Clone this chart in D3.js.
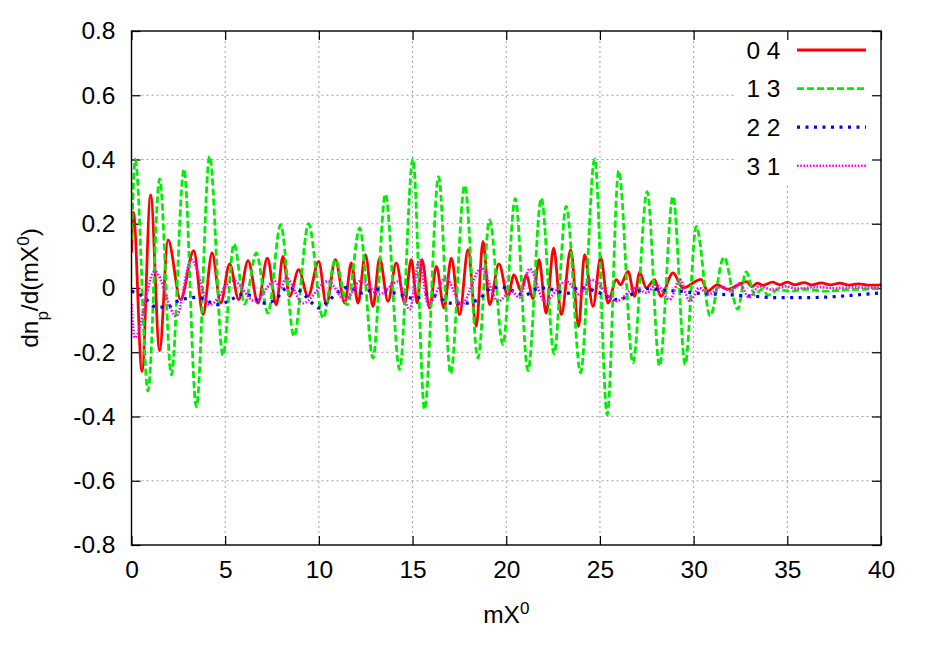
<!DOCTYPE html>
<html lang="en">
<head>
    <meta charset="utf-8">
    <title>dn/dmX0</title>
    <script src="https://cdnjs.cloudflare.com/ajax/libs/d3/7.8.5/d3.min.js"></script>
    <style>
        body { margin: 0; background: #fff; }
        text { font-family: "Liberation Sans", Arial, sans-serif; fill: #000; }
    </style>
</head>
<body>
    <script type="text/javascript">
    // tick values
    var xTicks = [0, 5, 10, 15, 20, 25, 30, 35, 40];
    var yTicks = [-0.8, -0.6, -0.4, -0.2, 0, 0.2, 0.4, 0.6, 0.8];
    var seriesNames = ["0 4", "1 3", "2 2", "3 1"];

    // series, [mX0, value] (mostly peaks and troughs)
    var s04 = [[0,0.11],[0.1,0.235],[0.56,-0.26],[1.02,0.29],[1.5,-0.195],[1.95,0.15],[2.62,-0.036],
        [3.32,0.116],[3.82,-0.083],[4.3,0.109],[4.76,-0.047],[5.24,0.075],[5.72,-0.036],[6.22,0.085],
        [6.75,-0.047],[7.25,0.093],[7.73,-0.052],[8.08,0.098],[8.44,-0.026],[8.92,0.057],[9.42,-0.026],
        [9.99,0.083],[10.4,-0.052],[10.88,0.088],[11.38,-0.047],[11.73,0.078],[12.09,-0.047],[12.48,0.104],
        [12.89,-0.057],[13.24,0.093],[13.69,-0.041],[14.13,0.078],[14.58,-0.047],[14.93,0.088],[15.25,-0.047],
        [15.5,0.088],[15.91,-0.062],[16.27,0.067],[16.68,-0.062],[17.07,0.093],[17.51,-0.083],[17.96,0.119],
        [18.4,-0.119],[18.76,0.145],[19.11,-0.052],[19.61,0.075],[20.09,-0.026],[20.41,0.041],[20.8,-0.01],
        [21.07,0.041],[21.43,-0.033],[21.75,0.088],[22.13,-0.078],[22.53,0.124],[22.94,-0.083],[23.44,0.119],
        [23.86,-0.119],[24.18,0.104],[24.63,-0.057],[25.04,0.095],[25.43,-0.047],[25.87,0.026],[26.1,0.01],
        [26.5,0.052],[26.85,-0.026],[27.12,0.049],[27.47,0],[27.92,0.026],[28.24,-0.026],[28.9,0.047],
        [29.43,0],[30.4,0.027],[30.75,-0.01],[31.25,0.01],[31.8,-0.004],[32.83,0.02],[33.1,0.004],[33.4,0.015],
        [33.7,0.008],[34.2,0.018],[34.6,0.01],[35,0.018],[35.4,0.01],[35.9,0.017],[36.3,0.01],[36.8,0.016],
        [37.3,0.01],[37.8,0.015],[38.3,0.009],[38.8,0.013],[39.3,0.009],[40,0.01]];

    var s13 = [[0,0.15],[0.2,0.4],[0.88,-0.32],[1.5,0.34],[2.13,-0.27],[2.8,0.37],[3.46,-0.37],[4.17,0.41],
        [4.88,-0.21],[5.47,0.137],[6.04,-0.05],[6.66,0.109],[7.28,-0.078],[7.96,0.197],[8.67,-0.15],[9.45,0.2],
        [10.22,-0.093],[10.88,0.088],[11.52,-0.052],[12.18,0.187],[12.89,-0.218],[13.55,0.292],[14.31,-0.254],
        [15.02,0.402],[15.64,-0.378],[16.39,0.347],[17.03,-0.267],[17.78,0.319],[18.49,-0.218],[19.11,0.212],
        [19.82,-0.176],[20.48,0.278],[21.16,-0.257],[21.87,0.28],[22.55,-0.205],[23.2,0.254],[23.97,-0.264],
        [24.72,0.402],[25.39,-0.394],[26,0.365],[26.76,-0.233],[27.52,0.3],[28.18,-0.243],[28.9,0.285],
        [29.55,-0.238],[30.14,0.192],[30.88,-0.087],[31.62,0.096],[32.35,-0.066],[32.8,0.05],[33.27,-0.022],
        [33.63,-0.004],[33.98,-0.022],[34.5,-0.005],[35.2,-0.01],[36,-0.004],[37,-0.01],[38,-0.006],
        [39,-0.004],[40,-0.002]];

    var s22 = [[0,-0.01],[0.7,-0.03],[1.2,-0.057],[1.9,-0.06],[2.5,-0.04],[3.5,-0.029],[4.6,-0.052],
        [5.2,-0.04],[5.9,-0.02],[6.4,-0.025],[7,-0.047],[7.6,-0.04],[8.3,0],[8.7,0],[9.2,-0.02],[9.7,-0.05],
        [10,-0.062],[10.5,-0.041],[11,-0.013],[11.55,0.002],[12.3,-0.016],[13,-0.003],[13.6,-0.01],
        [14.5,-0.023],[15.1,-0.033],[15.8,-0.02],[16.4,-0.03],[17,-0.047],[17.8,-0.047],[18.5,-0.036],
        [19.3,0.002],[19.8,0.002],[20.4,-0.01],[21,-0.023],[21.5,-0.005],[22.1,0],[22.7,-0.01],[23.3,-0.016],
        [23.9,0.002],[24.5,-0.005],[25.4,-0.026],[25.8,-0.036],[26.4,-0.029],[27,-0.01],[27.5,-0.002],
        [28.6,-0.008],[29.3,-0.01],[30,-0.015],[31.5,-0.02],[33,-0.025],[34.5,-0.03],[36,-0.03],
        [37.5,-0.027],[39,-0.02],[40,-0.015]];

    var s31 = [[0,-0.05],[0.17,-0.155],[1.24,0.052],[2.39,-0.088],[3.19,0.088],[4.17,-0.052],[5.42,0.023],
        [6.58,-0.041],[7.64,0.021],[7.95,0],[8.26,0.031],[9.15,-0.047],[10.49,0.021],[11.38,-0.036],
        [12.27,0.023],[13.2,-0.02],[14.22,0.02],[14.84,-0.067],[15.37,0.088],[15.82,-0.05],[16.8,0.031],
        [17.6,-0.052],[18.67,0.062],[19.56,-0.041],[20.3,-0.01],[20.7,-0.03],[21.25,0.06],[22.05,-0.041],
        [23.2,0.021],[23.9,-0.02],[24.54,0.026],[25.87,-0.041],[26.9,0],[27.5,-0.015],[28,0.01],
        [28.73,-0.036],[29.26,0.026],[29.8,-0.041],[30.3,0],[30.8,-0.02],[31.5,0.005],[32,-0.01],
        [32.45,0.015],[32.95,-0.03],[33.5,0.005],[34.2,-0.005],[34.9,0.005],[35.5,-0.002],[36.5,0.003],
        [37.5,0],[38.5,0.002],[40,0]];

    var seriesData = [s04, s13, s22, s31];
    var styles = [
        {color: "#ff0000", width: 2.8, dash: null},
        {color: "#00ee00", width: 2.8, dash: "7,3"},
        {color: "#0000ff", width: 3.2, dash: "3,5.5"},
        {color: "#ff00ff", width: 2.6, dash: "1.6,1.6"}
    ];

    var fontSize = 24.5, smallSize = 17;

    var W = 926, H = 649;
    var margin = {top: 31, right: 45, bottom: 104, left: 131.5};
    var width = W - margin.left - margin.right,
        height = H - margin.top - margin.bottom;

    var x = d3.scaleLinear().domain([0, 40]).range([0, width]);
    var y = d3.scaleLinear().domain([-0.8, 0.8]).range([height, 0]);

    var svg = d3.select("body").append("svg")
        .attr("width", W)
        .attr("height", H)
        .append("g")
        .attr("transform", "translate(" + margin.left + "," + margin.top + ")");

    svg.append("defs").append("clipPath").attr("id", "clip")
        .append("rect").attr("width", width).attr("height", height);

    // grid
    var grid = svg.append("g").attr("class", "grid")
        .attr("stroke", "#a0a0a0").attr("stroke-width", 1).attr("stroke-dasharray", "2,3");
    grid.selectAll(".gx").data(xTicks.slice(1, -1)).enter().append("line")
        .attr("x1", function(d) { return x(d); }).attr("x2", function(d) { return x(d); })
        .attr("y1", 0).attr("y2", height);
    grid.selectAll(".gy").data(yTicks.slice(1, -1)).enter().append("line")
        .attr("x1", 0).attr("x2", width)
        .attr("y1", function(d) { return y(d); }).attr("y2", function(d) { return y(d); });

    // key background hides grid
    var keyLeft = 603, keyBottom = 154;
    svg.append("rect")
        .attr("x", keyLeft).attr("y", 1)
        .attr("width", width - keyLeft - 1).attr("height", keyBottom)
        .attr("fill", "#fff");

    // axes (ticks inward, mirrored)
    var tickLen = 9;
    var xAxis = d3.axisBottom(x).tickValues(xTicks).tickSize(-tickLen).tickPadding(16).tickFormat(d3.format("d"));
    var yAxis = d3.axisLeft(y).tickValues(yTicks).tickSize(-tickLen).tickPadding(16)
        .tickFormat(function(d) { return d === 0 ? "0" : d3.format(".1f")(d).replace("−", "-"); });

    var gx = svg.append("g").attr("transform", "translate(0," + height + ")").call(xAxis);
    var gy = svg.append("g").call(yAxis);
    svg.append("g").call(d3.axisTop(x).tickValues(xTicks).tickSize(-tickLen).tickFormat(""));
    svg.append("g").attr("transform", "translate(" + width + ",0)")
        .call(d3.axisRight(y).tickValues(yTicks).tickSize(-tickLen).tickFormat(""));

    svg.selectAll(".domain").remove();
    svg.selectAll(".tick line").attr("stroke", "#000").attr("stroke-width", 1.2);
    [gx, gy].forEach(function(g) {
        g.selectAll("text").attr("font-size", fontSize).attr("font-family", "Liberation Sans, Arial, sans-serif").attr("fill", "#000");
    });
    gx.selectAll("text").attr("dy", "0.71em");

    // series
    var line = d3.line()
        .x(function(d) { return x(d[0]); })
        .y(function(d) { return y(d[1]); })
        .curve(d3.curveMonotoneX);

    var plot = svg.append("g").attr("clip-path", "url(#clip)");
    seriesData.forEach(function(data, i) {
        plot.append("path")
            .datum(data)
            .attr("fill", "none")
            .attr("stroke", styles[i].color)
            .attr("stroke-width", styles[i].width)
            .attr("stroke-dasharray", styles[i].dash)
            .attr("stroke-linejoin", "round")
            .attr("d", line);
    });

    // frame
    svg.append("rect")
        .attr("width", width).attr("height", height)
        .attr("fill", "none").attr("stroke", "#000").attr("stroke-width", 1.4);

    // key
    var key = svg.append("g");
    seriesNames.forEach(function(name, i) {
        var ky = 19 + i * 38.6;
        key.append("text")
            .attr("x", 649).attr("y", ky)
            .attr("dy", "0.36em")
            .attr("text-anchor", "end")
            .attr("font-size", fontSize)
            .text(name);
        key.append("line")
            .attr("x1", 665.5).attr("x2", 734.5)
            .attr("y1", ky).attr("y2", ky)
            .attr("stroke", styles[i].color)
            .attr("stroke-width", styles[i].width)
            .attr("stroke-dasharray", styles[i].dash);
    });

    // axis labels
    var xl = svg.append("text")
        .attr("x", width / 2).attr("y", height + 78)
        .attr("text-anchor", "middle")
        .attr("font-size", fontSize);
    xl.append("tspan").text("mX");
    xl.append("tspan").attr("baseline-shift", "super").attr("font-size", smallSize).text("0");

    var yl = svg.append("text")
        .attr("transform", "translate(" + (38 - margin.left) + "," + (height / 2) + ") rotate(-90)")
        .attr("text-anchor", "middle")
        .attr("font-size", fontSize);
    yl.append("tspan").text("dn");
    yl.append("tspan").attr("baseline-shift", "sub").attr("font-size", smallSize).text("p");
    yl.append("tspan").text("/d(mX");
    yl.append("tspan").attr("baseline-shift", "super").attr("font-size", smallSize).text("0");
    yl.append("tspan").text(")");
    </script>
</body>
</html>
